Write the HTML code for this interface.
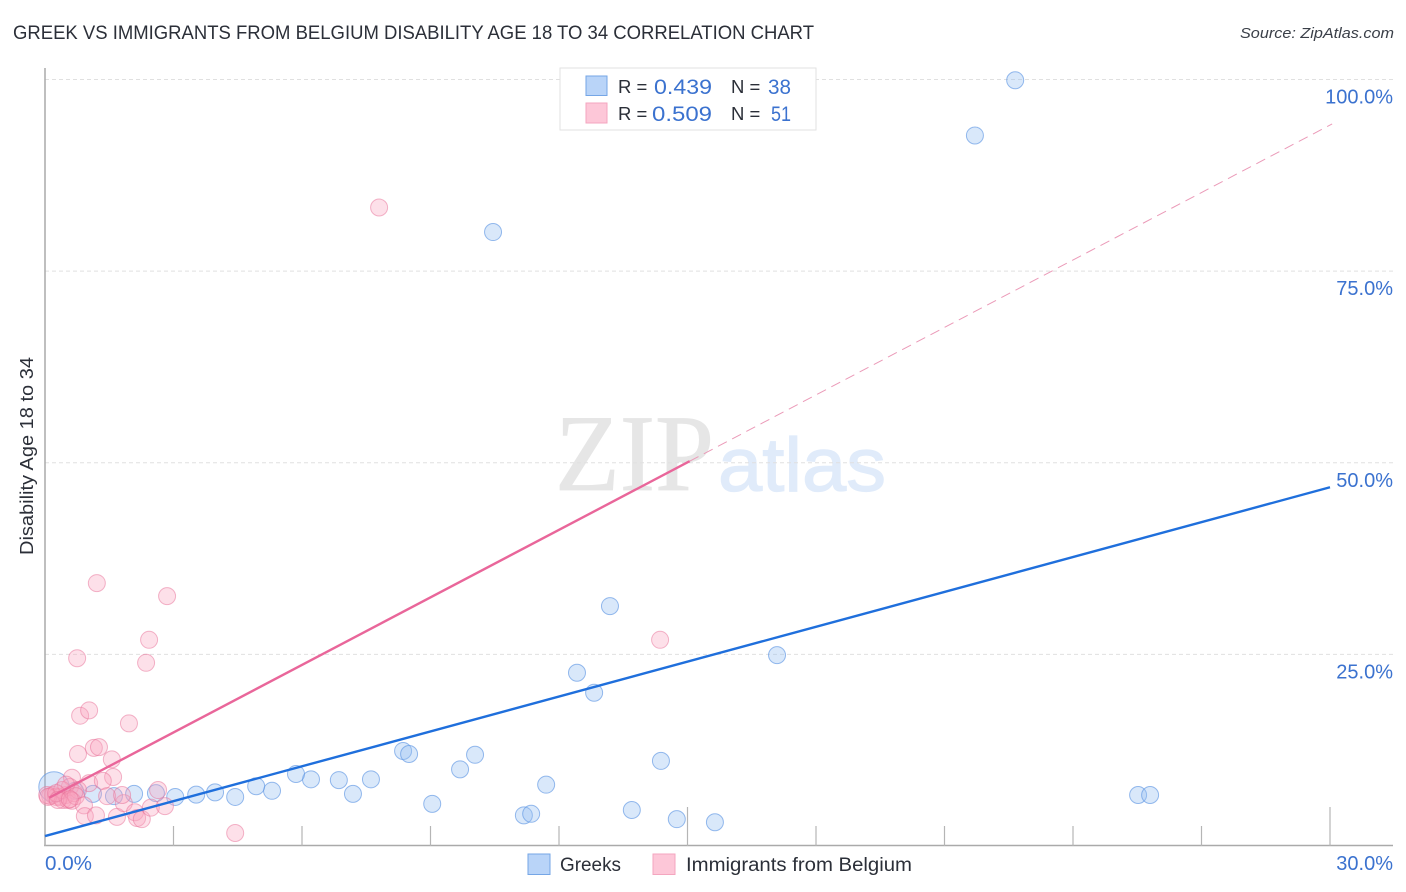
<!DOCTYPE html>
<html>
<head>
<meta charset="utf-8">
<style>
html,body{margin:0;padding:0;background:#fff;width:1406px;height:892px;overflow:hidden}
svg{display:block}
text{font-family:"Liberation Sans",sans-serif}
</style>
</head>
<body>
<svg id="chart" width="1406" height="892" viewBox="0 0 1406 892" xmlns="http://www.w3.org/2000/svg">
<rect width="1406" height="892" fill="#fff"/>
<text x="13" y="39" font-size="19" fill="#2b2f38" textLength="801" lengthAdjust="spacingAndGlyphs">GREEK VS IMMIGRANTS FROM BELGIUM DISABILITY AGE 18 TO 34 CORRELATION CHART</text>
<text x="1394" y="38" font-size="15" font-style="italic" fill="#3a3f48" text-anchor="end" textLength="154" lengthAdjust="spacingAndGlyphs">Source: ZipAtlas.com</text>
<g>
<text x="555" y="490" font-size="109" fill="#e6e6e6" stroke="#e6e6e6" stroke-width="0.8" textLength="159" lengthAdjust="spacingAndGlyphs" style="font-family:'Liberation Serif',serif">ZIP</text>
<text x="718" y="491" font-size="76" fill="#e0ebfa" stroke="#e0ebfa" stroke-width="1.2" textLength="168" lengthAdjust="spacingAndGlyphs">atlas</text>
</g>
<g id="grid"></g>
<g id="axes"></g>
<g id="greek-points"></g>
<g id="belgium-points"></g>
<g id="trends"></g>
<text x="33" y="456" font-size="18" fill="#2b2f38" text-anchor="middle" transform="rotate(-90 33 456)" textLength="198" lengthAdjust="spacingAndGlyphs">Disability Age 18 to 34</text>
<g>
<rect x="560" y="68" width="256" height="62" fill="#fff" stroke="#e2e2e2" stroke-width="1"/>
<rect x="586" y="76" width="21" height="19.500" fill="#b9d4f8" stroke="#75a6e6"/>
<rect x="586" y="103" width="21" height="20" fill="#fdc7d8" stroke="#f4a6bf"/>
<text x="618" y="93" font-size="18.500" fill="#2b2f38">R =</text>
<text x="654" y="94" font-size="21" fill="#3b72cf" textLength="58" lengthAdjust="spacingAndGlyphs">0.439</text>
<text x="731" y="93" font-size="18.500" fill="#2b2f38">N =</text>
<text x="768" y="94" font-size="21" fill="#3b72cf" textLength="23" lengthAdjust="spacingAndGlyphs">38</text>
<text x="618" y="120" font-size="18.500" fill="#2b2f38">R =</text>
<text x="652" y="121" font-size="21" fill="#3b72cf" textLength="60" lengthAdjust="spacingAndGlyphs">0.509</text>
<text x="731" y="120" font-size="18.500" fill="#2b2f38">N =</text>
<text x="771" y="121" font-size="21" fill="#3b72cf" textLength="20" lengthAdjust="spacingAndGlyphs">51</text>
</g>
<g>
<rect x="528" y="854" width="22" height="20.500" fill="#b9d4f8" stroke="#75a6e6"/>
<text x="560" y="871" font-size="19" fill="#2b2f38" textLength="61" lengthAdjust="spacingAndGlyphs">Greeks</text>
<rect x="653" y="854" width="22" height="20.500" fill="#fdc7d8" stroke="#f4a6bf"/>
<text x="686" y="871" font-size="19" fill="#2b2f38" textLength="226" lengthAdjust="spacingAndGlyphs">Immigrants from Belgium</text>
</g>
</svg>
<script>
const yTicks = [25, 50, 75, 100];
const yTickLabels = ["25.0%", "50.0%", "75.0%", "100.0%"];
const xTicks = [0, 3, 6, 9, 12, 15, 18, 21, 24, 27, 30];
const xMajorTicks = [0, 15, 30];
const xEdgeLabels = ["0.0%", "30.0%"];
const greekX = [22.65,21.71,10.46,13.19,12.42,12.82,17.09,14.38,25.52,25.80,8.36,8.50,10.04,9.69,11.70,9.04,11.18,11.35,13.70,14.75,15.64,7.61,6.86,7.19,6.21,5.86,5.30,4.93,4.44,3.97,3.53,3.04,2.59,2.08,1.61,1.12,0.70,0.21];
const greekY = [99.9,92.7,80.1,31.3,22.6,20.0,24.9,11.1,6.65,6.65,12.4,12.0,11.9,10.0,8.0,5.5,4.0,4.2,4.7,3.5,3.1,8.7,8.6,6.8,8.7,9.4,7.2,7.8,6.4,7.0,6.7,6.4,6.9,6.8,6.5,6.8,7.2,7.7];
const greekWeight = [1,1,1,1,1,1,1,1,1,1,1,1,1,1,1,1,1,1,1,1,1,1,1,1,1,1,1,1,1,1,1,1,1,1,1,1,1,3.2];
const belgiumX = [7.80,1.21,2.85,2.43,2.36,0.75,14.36,0.82,1.03,1.96,0.77,1.14,1.26,1.56,1.59,1.03,1.35,0.63,2.64,4.44,0.12,0.19,0.26,0.35,0.42,0.49,0.54,0.58,0.68,0.77,0.05,0.40,0.49,0.63,0.72,0.91,0.93,1.19,1.45,1.68,1.84,1.80,2.10,2.15,2.26,2.47,2.80,0.07,0.26,0.30,0.58];
const belgiumY = [83.3,34.3,32.6,26.9,23.9,24.5,26.9,17.0,17.7,16.0,12.0,12.8,12.9,11.3,9.0,8.2,8.5,8.9,7.3,1.7,6.5,6.65,6.4,6.4,6.0,6.65,6.0,7.7,6.9,7.3,6.65,7.3,8.0,5.9,6.5,5.3,3.9,4.0,6.5,3.8,5.6,6.65,4.4,3.65,3.5,5.0,5.2,6.4,6.9,6.0,6.1];
const greekTrendX = [0, 30];
const greekTrendY = [1.3, 46.8];
const belgiumSolidX = [0.1, 15.05];
const belgiumSolidY = [6.3, 50.2];
const belgiumDashX = [15.05, 30.05];
const belgiumDashY = [50.2, 94.2];

const NS = 'http://www.w3.org/2000/svg';
const xPx = v => 45 + v * (1285 / 30);
const yPx = v => 846 - v * (766.5 / 100);
const rPx = w => 8.5 * Math.sqrt(w);
function make(parent, tag, attrs, text) {
  const el = document.createElementNS(NS, tag);
  for (const k in attrs) el.setAttribute(k, attrs[k]);
  if (text !== undefined) el.textContent = text;
  document.getElementById(parent).appendChild(el);
  return el;
}
yTicks.forEach((t, i) => {
  const line = make('grid', 'line', {x1: 45, x2: 1393, y1: yPx(t), y2: yPx(t), stroke: '#e0e0e0', 'stroke-width': 1, 'stroke-dasharray': '4 3'});
  
  
  const label = make('axes', 'text', {x: 1393, y: yPx(t) + 24, 'font-size': 20, fill: '#3b72cf', 'text-anchor': 'end'}, yTickLabels[i]);
  
  
});
const yAxis = make('axes', 'line', {x1: 45, x2: 45, y1: 68, y2: 846, stroke: '#aaa', 'stroke-width': 1.5});


const xAxis = make('axes', 'line', {x1: 44, x2: 1393, y1: 845.5, y2: 845.5, stroke: '#aaa', 'stroke-width': 1.5});


xTicks.forEach(t => {
  const top = xMajorTicks.includes(t) ? 807 : 826;
  const tick = make('axes', 'line', {x1: xPx(t), x2: xPx(t), y1: top, y2: 846, stroke: '#b5b5b5', 'stroke-width': 1.2});
  
  
});
const xLabelLeft = make('axes', 'text', {x: 45, y: 870, 'font-size': 20, fill: '#3b72cf', textLength: 47, lengthAdjust: 'spacingAndGlyphs'}, xEdgeLabels[0]);


const xLabelRight = make('axes', 'text', {x: 1393, y: 870, 'font-size': 20, fill: '#3b72cf', 'text-anchor': 'end'}, xEdgeLabels[1]);


greekX.forEach((v, i) => {
  const dot = make('greek-points', 'circle', {cx: xPx(v), cy: yPx(greekY[i]), r: rPx(greekWeight[i]), fill: 'rgba(150,192,242,0.36)', stroke: 'rgba(95,150,228,0.65)', 'stroke-width': 1});
  
  
});
belgiumX.forEach((v, i) => {
  const dot = make('belgium-points', 'circle', {cx: xPx(v), cy: yPx(belgiumY[i]), r: 8.5, fill: 'rgba(248,165,190,0.34)', stroke: 'rgba(232,110,150,0.5)', 'stroke-width': 1});
  
  
});
const greekLine = make('trends', 'line', {x1: xPx(greekTrendX[0]), y1: yPx(greekTrendY[0]), x2: xPx(greekTrendX[1]), y2: yPx(greekTrendY[1]), stroke: '#1f6fdc', 'stroke-width': 2.4});


const belgiumLine = make('trends', 'line', {x1: xPx(belgiumSolidX[0]), y1: yPx(belgiumSolidY[0]), x2: xPx(belgiumSolidX[1]), y2: yPx(belgiumSolidY[1]), stroke: '#e9669a', 'stroke-width': 2.4});


const belgiumDash = make('trends', 'line', {x1: xPx(belgiumDashX[0]), y1: yPx(belgiumDashY[0]), x2: xPx(belgiumDashX[1]), y2: yPx(belgiumDashY[1]), stroke: '#eb9ab8', 'stroke-width': 1, 'stroke-dasharray': '10 6'});


</script>
</body>
</html>
